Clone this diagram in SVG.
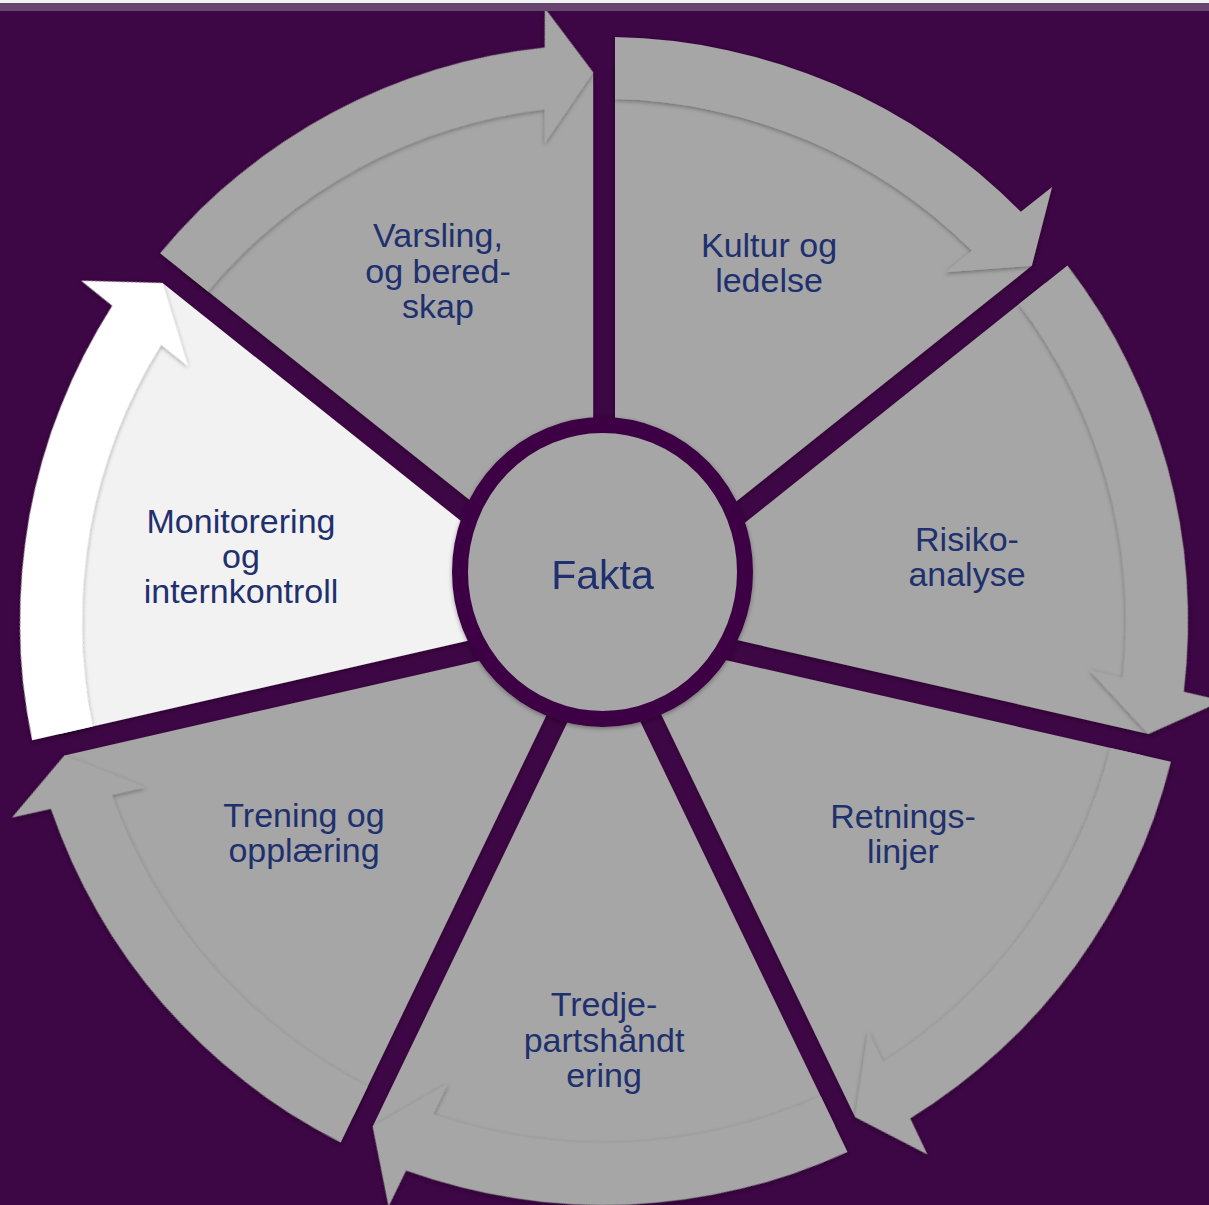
<svg xmlns="http://www.w3.org/2000/svg" xmlns:xlink="http://www.w3.org/1999/xlink" width="1209" height="1205" viewBox="0 0 1209 1205">
  <style>
    .gray { fill: #a6a6a6; }
    .light { fill: #f2f2f2; }
    .white { fill: #ffffff; }
    .lbl { font-family: "Liberation Sans", Arial, sans-serif; font-size: 34px; fill: #1f306e; text-anchor: middle; }
    .center { font-family: "Liberation Sans", Arial, sans-serif; font-size: 41px; fill: #1f306e; text-anchor: middle; }
  </style>
  <defs>
    <filter id="sh" x="-10%" y="-10%" width="120%" height="120%">
      <feDropShadow dx="0" dy="1.5" stdDeviation="2" flood-color="#000000" flood-opacity="0.35"/>
    </filter>
    <path id="body" d="M 11,-22.84 L 11,-555.89 A 556 556 0 0 1 427.75,-355.19 Z"/>
    <path id="band" d="M 11,-583.90 A 584 584 0 0 1 416.83,-409.16 L 448.11,-434.10 L 427.84,-355.26 L 341.00,-348.68 L 367.97,-370.19 A 522 522 0 0 0 11,-521.88 Z"/>
  </defs>

  <rect x="0" y="0" width="1209" height="1205" fill="#3d0644"/>

  <g id="node-kultur">
    <g filter="url(#sh)"><use href="#body" xlink:href="#body" class="gray" transform="translate(604 621) rotate(0)"/></g>
    <text class="lbl" x="769" y="257">Kultur og</text>
    <text class="lbl" x="769" y="292">ledelse</text>
  </g>
  <g id="node-risiko">
    <g filter="url(#sh)"><use href="#body" xlink:href="#body" class="gray" transform="translate(604 621) rotate(51.42857)"/></g>
    <text class="lbl" x="967" y="551">Risiko-</text>
    <text class="lbl" x="967" y="586">analyse</text>
  </g>
  <g id="node-retningslinjer">
    <g filter="url(#sh)"><use href="#body" xlink:href="#body" class="gray" transform="translate(604 621) rotate(102.85714)"/></g>
    <text class="lbl" x="903" y="828">Retnings-</text>
    <text class="lbl" x="903" y="863">linjer</text>
  </g>
  <g id="node-tredjepart">
    <g filter="url(#sh)"><use href="#body" xlink:href="#body" class="gray" transform="translate(604 621) rotate(154.28571)"/></g>
    <text class="lbl" x="604" y="1016">Tredje-</text>
    <text class="lbl" x="604" y="1052">partshåndt</text>
    <text class="lbl" x="604" y="1087">ering</text>
  </g>
  <g id="node-trening">
    <g filter="url(#sh)"><use href="#body" xlink:href="#body" class="gray" transform="translate(604 621) rotate(205.71429)"/></g>
    <text class="lbl" x="304" y="827">Trening og</text>
    <text class="lbl" x="304" y="862">opplæring</text>
  </g>
  <g id="node-monitorering">
    <g filter="url(#sh)"><use href="#body" xlink:href="#body" class="light" transform="translate(604 621) rotate(257.14286)"/></g>
    <text class="lbl" x="241" y="533">Monitorering</text>
    <text class="lbl" x="241" y="568">og</text>
    <text class="lbl" x="241" y="603">internkontroll</text>
  </g>
  <g id="node-varsling">
    <g filter="url(#sh)"><use href="#body" xlink:href="#body" class="gray" transform="translate(604 621) rotate(308.57143) scale(0.987)"/></g>
    <text class="lbl" x="438" y="247">Varsling,</text>
    <text class="lbl" x="438" y="283">og bered-</text>
    <text class="lbl" x="438" y="318">skap</text>
  </g>

  <g id="connectors" filter="url(#sh)">
    <use href="#band" xlink:href="#band" class="gray" transform="translate(604 621) rotate(0)"/>
    <use href="#band" xlink:href="#band" class="gray" transform="translate(604 621) rotate(51.42857)"/>
    <use href="#band" xlink:href="#band" class="gray" transform="translate(604 621) rotate(102.85714)"/>
    <use href="#band" xlink:href="#band" class="gray" transform="translate(604 621) rotate(154.28571)"/>
    <use href="#band" xlink:href="#band" class="gray" transform="translate(604 621) rotate(205.71429)"/>
    <use href="#band" xlink:href="#band" class="white" transform="translate(604 621) rotate(257.14286)"/>
    <use href="#band" xlink:href="#band" class="gray" transform="translate(604 621) rotate(308.57143) scale(0.987)"/>
  </g>

  <g id="node-fakta">
    <ellipse cx="602.5" cy="572" rx="142.5" ry="147" fill="#a6a6a6" stroke="#3d0644" stroke-width="16" filter="url(#sh)"/>
    <text class="center" x="602.5" y="589">Fakta</text>
  </g>

  <rect x="0" y="0" width="1209" height="3" fill="#f2f2f2"/>
  <rect x="0" y="3" width="1209" height="8" fill="#664570"/>
</svg>
